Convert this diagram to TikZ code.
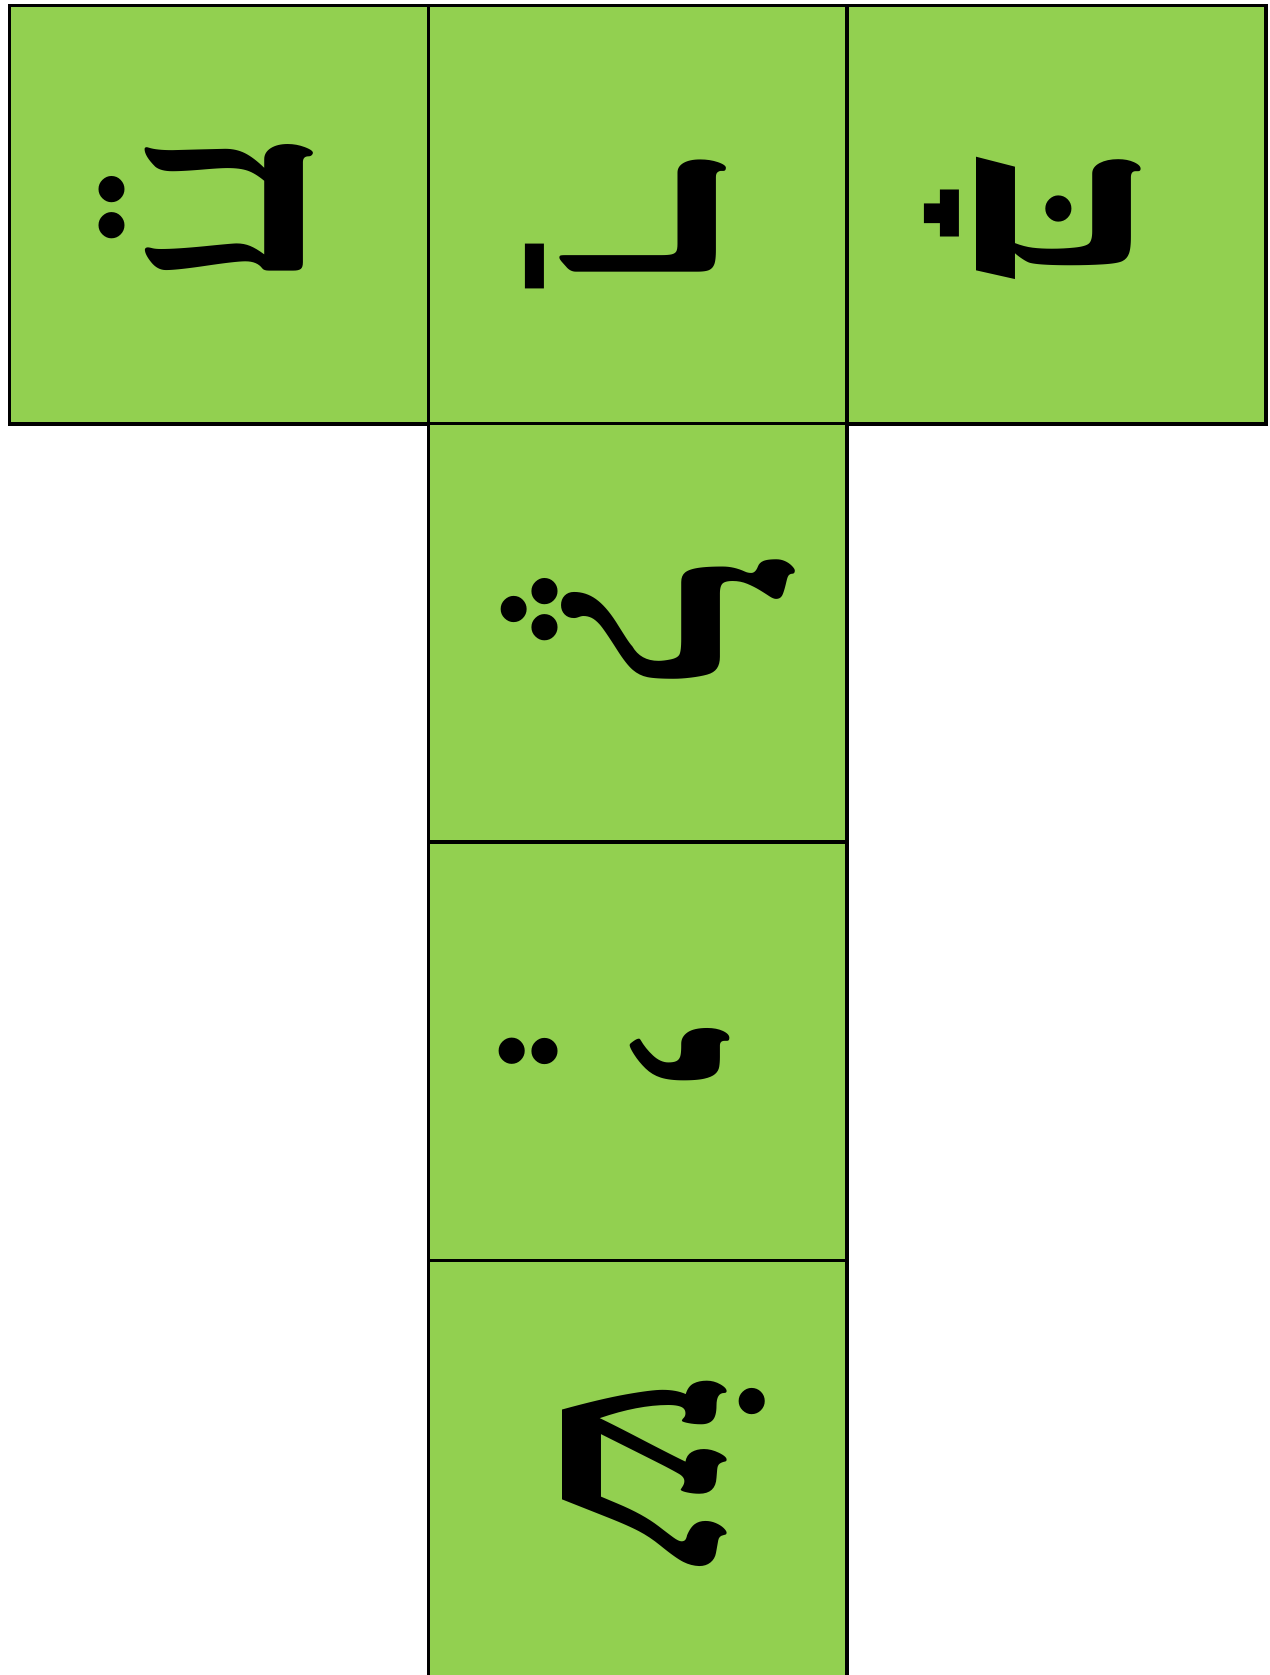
\documentclass[tikz,border=0pt]{standalone}
\usepackage{fontspec}
\TeXXeTstate=1
\newfontfamily\hebfont[Script=Hebrew]{Liberation Serif}
\definecolor{netgreen}{RGB}{146,208,80}
\begin{document}
\begin{tikzpicture}[x=0.5pt,y=-0.5pt,
  face/.style={rectangle,draw=black,line width=1.75pt,fill=netgreen,minimum size=209.35pt,inner sep=0pt},
  glyph/.style={anchor=base,rotate=-90,inner sep=0pt,font=\hebfont\bfseries\fontsize{140}{140}\selectfont}]
\useasboundingbox (0,0) rectangle (1269,1675);
\clip (0,0) rectangle (1269,1675);
\node[face] (f1) at (219,214.7) {};
\node[face] (f2) at (637.8,214.7) {};
\node[face] (f3) at (1056.4,214.7) {};
\node[face] (f4) at (637.8,632.9) {};
\node[face] (f5) at (637.8,1051.1) {};
\node[face] (f6) at (637.8,1469.8) {};
\node[glyph] (t1) at (148,208) {\beginR חֵ\endR};
\node[glyph] (t2) at (561,225.5) {\beginR רַ\endR};
\node[glyph] (t3) at (976,221) {\beginR בָּ\endR};
\node[glyph] (t4) at (565,628) {\beginR לֶ\endR};
\node[glyph] (t5) at (565,1058) {\beginR יְ\endR};
\node[glyph] (t6) at (562,1469.8) {\beginR שׂ\endR};
\end{tikzpicture}
\end{document}
